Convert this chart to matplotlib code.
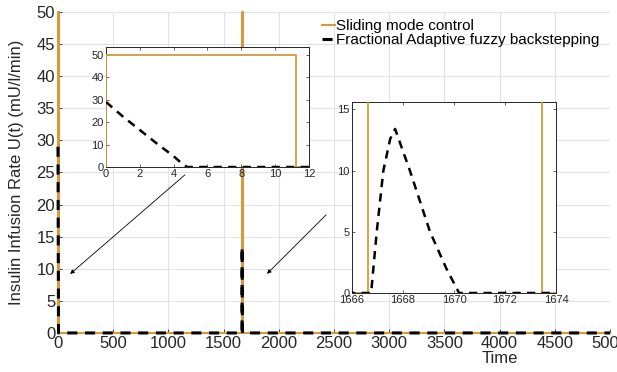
import matplotlib
matplotlib.use("Agg")
import matplotlib.pyplot as plt

# ── data ─────────────────────────────────────────────────────────────────────
SMC_T = [0, 0, 11.25, 11.25, 1666.63, 1666.63, 1673.45, 1673.45, 5000]
SMC_U = [0, 50, 50, 0, 0, 50, 50, 0, 0]

FAB_T = [0, 1, 2, 3, 4, 4.5, 4.8, 1666.75, 1666.97, 1667.23, 1667.5, 1667.69,
         1668.27, 1669.06, 1669.7, 1670.2, 5000]
FAB_U = [29, 22.5, 16.5, 10.5, 4.8, 1.5, 0, 0, 5, 10, 12.6, 13.4,
         10, 5, 2, 0, 0]

MAIN_XTICKS = list(range(0, 5001, 500))
MAIN_YTICKS = list(range(0, 51, 5))
INSET1_XTICKS = [0, 2, 4, 6, 8, 10, 12]
INSET1_YTICKS = [0, 10, 20, 30, 40, 50]
INSET2_XTICKS = [1666, 1668, 1670, 1672, 1674]
INSET2_YTICKS = [0, 5, 10, 15]

# ── style ────────────────────────────────────────────────────────────────────
ORANGE = "#d49a3e"
TXT = "#262626"
plt.rcParams["font.family"] = ["Liberation Sans", "DejaVu Sans"]
DASH = (0, (3.3, 2.5))

fig = plt.figure(figsize=(6.17, 3.72), dpi=100)
fig.patch.set_facecolor("white")

ax = fig.add_axes([0.094, 0.105, 0.8947, 0.863])
ax.plot(SMC_T, SMC_U, color=ORANGE, lw=1.5, label="Sliding mode control",
        zorder=3, clip_on=False)
ax.plot(FAB_T, FAB_U, color="black", lw=2.2, ls=DASH, clip_on=False,
        label="Fractional Adaptive fuzzy backstepping", zorder=4)
ax.set_xlim(0, 5000)
ax.set_ylim(0, 50)
ax.set_xticks(MAIN_XTICKS)
ax.set_yticks(MAIN_YTICKS)
ax.tick_params(direction="in", labelsize=12, colors=TXT, length=3, width=0.6,
               pad=2)
ax.grid(True, color="#e3e3e3", lw=0.8)
for s in ["top", "right"]:
    ax.spines[s].set_visible(False)
for s in ["left", "bottom"]:
    ax.spines[s].set_color(TXT)
    ax.spines[s].set_linewidth(0.6)
ax.set_ylabel("Insulin Infusion Rate U(t) (mU/l/min)", fontsize=12, color=TXT)
ax.yaxis.set_label_coords(-0.062, 0.5)
ax.set_xlabel("Time", fontsize=12, color=TXT, labelpad=0)
ax.xaxis.set_label_coords(0.80, -0.055)

leg = ax.legend(loc="upper left", bbox_to_anchor=(0.478, 0.978), frameon=False,
                fontsize=11, handlelength=0.85, handletextpad=0.05,
                labelspacing=0.0, borderaxespad=0, borderpad=0)
for t in leg.get_texts():
    t.set_color("black")

# arrows
arrow = dict(arrowstyle="-|>", color="black", lw=0.6, mutation_scale=6)
ax.annotate("", xy=(91, 8.9), xytext=(1168, 24.9), arrowprops=arrow,
            annotation_clip=False, zorder=10)
ax.annotate("", xy=(1875, 8.9), xytext=(2446, 18.7), arrowprops=arrow,
            annotation_clip=False, zorder=10)


def style_inset(a, xt, yt):
    a.set_facecolor("white")
    a.set_xticks(xt)
    a.set_yticks(yt)
    a.tick_params(direction="in", labelsize=8, colors=TXT, length=2.5,
                  width=0.5, pad=1.5, top=True, right=True)
    for s in a.spines.values():
        s.set_color(TXT)
        s.set_linewidth(0.7)


ax1 = fig.add_axes([0.1718, 0.551, 0.329, 0.3226])
ax1.plot(SMC_T, SMC_U, color=ORANGE, lw=1.3, zorder=3)
ax1.plot(FAB_T, FAB_U, color="black", lw=1.8, ls=DASH, zorder=4)
ax1.set_xlim(0, 12)
ax1.set_ylim(0, 53.5)
style_inset(ax1, INSET1_XTICKS, INSET1_YTICKS)

ax2 = fig.add_axes([0.5705, 0.2124, 0.3306, 0.5134])
ax2.plot(SMC_T, SMC_U, color=ORANGE, lw=1.3, zorder=3)
ax2.plot(FAB_T, FAB_U, color="black", lw=1.8, ls=DASH, zorder=4)
ax2.set_xlim(1666, 1674)
ax2.set_ylim(0, 15.6)
style_inset(ax2, INSET2_XTICKS, INSET2_YTICKS)

fig.savefig("out.png", dpi=100, facecolor="white")
